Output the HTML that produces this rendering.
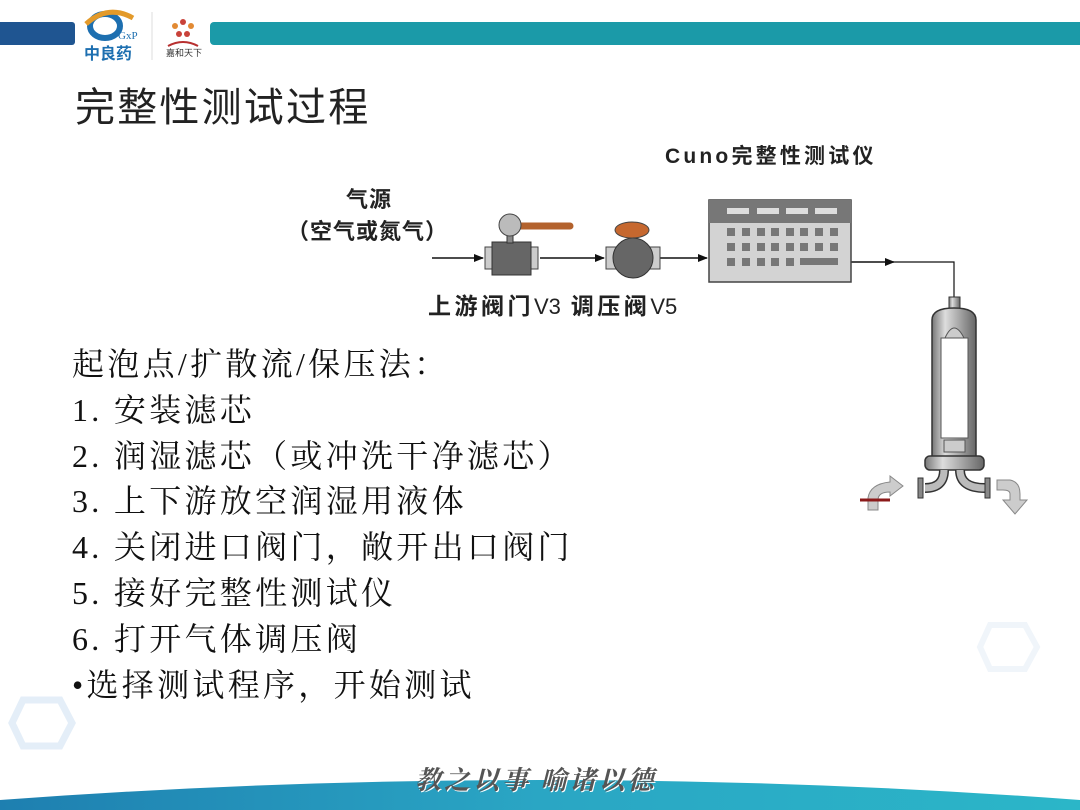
<!DOCTYPE html>
<html><head><meta charset="utf-8">
<style>
html,body{margin:0;padding:0;}
body{width:1080px;height:810px;position:relative;overflow:hidden;background:#fff;font-family:"Liberation Sans","Noto Sans CJK SC",sans-serif;}
.abs{position:absolute;white-space:nowrap;}
.list{position:absolute;left:72px;top:342px;font-family:"Liberation Serif","Noto Serif CJK SC",serif;font-size:32px;line-height:45.8px;color:#111;letter-spacing:3.3px;}
.lbl{font-family:"Liberation Sans","Noto Sans CJK SC",sans-serif;font-weight:bold;color:#222;}
</style></head><body>
<div class="abs" style="left:0;top:22px;width:75px;height:23px;background:#1f5591;border-radius:0 3px 3px 0;"></div>
<div class="abs" style="left:210px;top:22px;width:870px;height:23px;background:#1b9aa8;border-radius:4px 0 0 4px;"></div>
<svg class="abs" style="left:78px;top:4px" width="130" height="58">
<ellipse cx="27" cy="22" rx="15" ry="12" fill="none" stroke="#1d6fb0" stroke-width="6"/>
<path d="M8 20 Q30 0 55 14" stroke="#e39a2a" stroke-width="5" fill="none"/>
<text x="40" y="35" font-size="11" fill="#1d6fb0" font-family="Liberation Serif">GxP</text>
<text x="6" y="55" font-size="16" font-weight="bold" fill="#1d6fb0" font-family="Noto Sans CJK SC">中良药</text>
<line x1="74" y1="8" x2="74" y2="56" stroke="#ddd"/>
<circle cx="105" cy="18" r="3" fill="#c9423a"/><circle cx="97" cy="22" r="3" fill="#e28a33"/><circle cx="113" cy="22" r="3" fill="#e28a33"/><circle cx="101" cy="30" r="3" fill="#c9423a"/><circle cx="109" cy="30" r="3" fill="#c9423a"/>
<path d="M90 42 Q105 34 120 42" stroke="#b83030" stroke-width="2" fill="none"/>
<text x="88" y="52" font-size="9" fill="#333" font-family="Noto Sans CJK SC">嘉和天下</text>
</svg>
<div class="abs" style="left:75px;top:82px;font-size:40px;line-height:52px;color:#222;font-family:'Liberation Sans','Noto Sans CJK SC',sans-serif;letter-spacing:2.2px;">完整性测试过程</div>
<div class="abs lbl" style="left:346px;top:182px;font-size:22px;letter-spacing:1px;">气源</div>
<div class="abs lbl" style="left:287px;top:214px;font-size:22px;letter-spacing:1px;">（空气或氮气）</div>
<div class="abs lbl" style="left:428px;top:287px;font-size:23px;letter-spacing:3.5px;">上游阀门<span style="font-weight:normal;font-size:22px;letter-spacing:0">V3</span> 调压阀<span style="font-weight:normal;font-size:22px;letter-spacing:0">V5</span></div>
<div class="abs lbl" style="left:665px;top:140px;font-size:21px;letter-spacing:3.2px;">Cuno完整性测试仪</div>
<svg class="abs" style="left:0;top:0" width="1080" height="810">
<defs>
<marker id="ar" markerWidth="10" markerHeight="8" refX="9" refY="4" orient="auto" markerUnits="userSpaceOnUse"><path d="M0 0 L10 4 L0 8 Z" fill="#111"/></marker>
<linearGradient id="cyl" x1="0" x2="1"><stop offset="0" stop-color="#777"/><stop offset="0.3" stop-color="#ddd"/><stop offset="0.6" stop-color="#aaa"/><stop offset="1" stop-color="#666"/></linearGradient>
<linearGradient id="band" x1="0" x2="1"><stop offset="0" stop-color="#1e7fb0"/><stop offset="0.5" stop-color="#2aa6c4"/><stop offset="1" stop-color="#2bb6c8"/></linearGradient>
</defs>
<line x1="432" y1="258" x2="483" y2="258" stroke="#111" stroke-width="1.5" marker-end="url(#ar)"/>
<line x1="540" y1="258" x2="604" y2="258" stroke="#111" stroke-width="1.5" marker-end="url(#ar)"/>
<line x1="660" y1="258" x2="707" y2="258" stroke="#111" stroke-width="1.5" marker-end="url(#ar)"/>
<line x1="851" y1="262" x2="894" y2="262" stroke="#111" stroke-width="1.5" marker-end="url(#ar)"/>
<polyline points="894,262 954,262 954,297" stroke="#111" stroke-width="1.2" fill="none"/>
<rect x="485" y="247" width="9" height="22" fill="#ccc" stroke="#444"/>
<rect x="529" y="247" width="9" height="22" fill="#ccc" stroke="#444"/>
<rect x="492" y="242" width="39" height="33" fill="#666" stroke="#333"/>
<rect x="507" y="232" width="6" height="11" fill="#888" stroke="#333"/>
<line x1="515" y1="226" x2="570" y2="226" stroke="#b3622d" stroke-width="7" stroke-linecap="round"/>
<circle cx="510" cy="225" r="11" fill="#bbb" stroke="#444"/>
<rect x="606" y="247" width="54" height="22" fill="#ccc" stroke="#444"/>
<circle cx="633" cy="258" r="20" fill="#666" stroke="#333"/>
<ellipse cx="632" cy="230" rx="17" ry="8" fill="#c6682f" stroke="#444"/>
<rect x="709" y="200" width="142" height="82" fill="#d3d3d3" stroke="#444" stroke-width="1.5"/>
<rect x="709" y="200" width="142" height="23" fill="#777"/>
<g fill="#ddd"><rect x="727" y="208" width="22" height="6"/><rect x="757" y="208" width="22" height="6"/><rect x="786" y="208" width="22" height="6"/><rect x="815" y="208" width="22" height="6"/></g>
<g fill="#777">
<rect x="727" y="228" width="8" height="8"/><rect x="742" y="228" width="8" height="8"/><rect x="757" y="228" width="8" height="8"/><rect x="771" y="228" width="8" height="8"/><rect x="786" y="228" width="8" height="8"/><rect x="800" y="228" width="8" height="8"/><rect x="815" y="228" width="8" height="8"/><rect x="830" y="228" width="8" height="8"/>
<rect x="727" y="243" width="8" height="8"/><rect x="742" y="243" width="8" height="8"/><rect x="757" y="243" width="8" height="8"/><rect x="771" y="243" width="8" height="8"/><rect x="786" y="243" width="8" height="8"/><rect x="800" y="243" width="8" height="8"/><rect x="815" y="243" width="8" height="8"/><rect x="830" y="243" width="8" height="8"/>
<rect x="727" y="258" width="8" height="8"/><rect x="742" y="258" width="8" height="8"/><rect x="757" y="258" width="8" height="8"/><rect x="771" y="258" width="8" height="8"/><rect x="786" y="258" width="8" height="8"/><rect x="800" y="258" width="38" height="7"/>
</g>
<rect x="949" y="297" width="11" height="14" fill="url(#cyl)" stroke="#333"/>
<path d="M932 320 Q932 308 954 308 Q976 308 976 320 L976 460 L932 460 Z" fill="url(#cyl)" stroke="#333" stroke-width="1.5"/>
<rect x="941" y="338" width="27" height="100" fill="#fff" stroke="#555"/>
<path d="M945 338 Q954 318 964 338 Z" fill="#ccc" stroke="#555"/>
<rect x="944" y="440" width="21" height="12" fill="#ccc" stroke="#555"/>
<rect x="925" y="456" width="59" height="14" rx="5" fill="url(#cyl)" stroke="#333" stroke-width="1.5"/>
<path d="M944 470 Q944 488 925 488" stroke="#333" stroke-width="10" fill="none"/>
<path d="M944 470 Q944 488 925 488" stroke="#bbb" stroke-width="7" fill="none"/>
<path d="M960 470 Q960 488 985 488" stroke="#333" stroke-width="10" fill="none"/>
<path d="M960 470 Q960 488 985 488" stroke="#bbb" stroke-width="7" fill="none"/>
<rect x="918" y="478" width="5" height="20" fill="#888" stroke="#333"/>
<rect x="985" y="478" width="5" height="20" fill="#888" stroke="#333"/>
<path d="M868 510 L868 498 Q870 484 890 482 L890 476 L903 486 L890 496 L890 492 Q878 492 878 500 L878 510 Z" fill="#ccc" stroke="#888"/>
<line x1="860" y1="500" x2="890" y2="500" stroke="#8b1a1a" stroke-width="3"/>
<path d="M997 480 L1010 480 Q1020 482 1020 494 L1020 500 L1027 500 L1015 514 L1003 500 L1010 500 L1010 494 Q1010 490 1003 490 L997 490 Z" fill="#ccc" stroke="#888"/>
<polygon points="23,700 60,700 72,723 60,746 23,746 12,723" fill="none" stroke="#e4eef8" stroke-width="7"/>
<polygon points="990,625 1025,625 1037,647 1025,669 990,669 980,647" fill="none" stroke="#f0f5fa" stroke-width="6"/>
<path d="M0 810 L0 800 Q540 760 1080 800 L1080 810 Z" fill="url(#band)"/>
</svg>
<div class="abs" style="left:415px;top:760px;font-size:26px;font-style:italic;font-weight:bold;color:#555;letter-spacing:3px;font-family:'Noto Serif CJK SC',serif;text-shadow:1px 1px 0 #fff;">教之以事 喻诸以德</div>
<div class="list">起泡点/扩散流/保压法：<br>1. 安装滤芯<br>2. 润湿滤芯（或冲洗干净滤芯）<br>3. 上下游放空润湿用液体<br>4. 关闭进口阀门，敞开出口阀门<br>5. 接好完整性测试仪<br>6. 打开气体调压阀<br>•选择测试程序，开始测试</div>
</body></html>
